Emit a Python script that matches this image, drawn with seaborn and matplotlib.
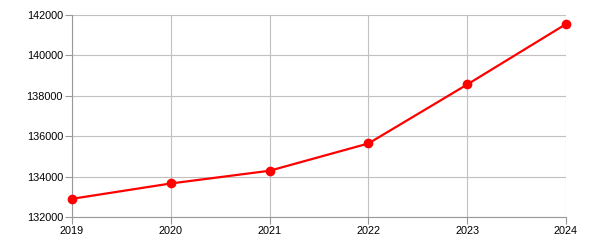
import matplotlib
matplotlib.use("Agg")
import matplotlib.pyplot as plt
import seaborn as sns
import pandas as pd

years = [2019, 2020, 2021, 2022, 2023, 2024]
values = [132900, 133660, 134290, 135640, 138560, 141550]
y_ticks = [132000, 134000, 136000, 138000, 140000, 142000]

sns.set_style("white")
plt.rcParams['font.family'] = ['Liberation Sans', 'DejaVu Sans']

df = pd.DataFrame({"year": years, "value": values})

fig = plt.figure(figsize=(6, 2.5), dpi=100)
ax = fig.add_axes([72/600, 1 - 217/250, (566-72)/600, (217-15)/250])

sns.lineplot(data=df, x="year", y="value", ax=ax, color="#ff0000",
             linewidth=1.6, marker="o", markersize=7, markeredgewidth=0,
             zorder=3)

ax.set_xlim(2019, 2024)
ax.set_ylim(132000, 142000)
ax.set_xticks(years)
ax.set_xticklabels([str(y) for y in years])
ax.set_yticks(y_ticks)
ax.set_yticklabels([str(v) for v in y_ticks])
ax.set_xlabel("")
ax.set_ylabel("")

ax.grid(True, color="#c0c0c0", linewidth=0.8)
for s in ["top", "right"]:
    ax.spines[s].set_visible(False)
for s in ["left", "bottom"]:
    ax.spines[s].set_color("#999999")
    ax.spines[s].set_linewidth(0.8)
ax.tick_params(axis="both", direction="out", length=5, width=0.8,
               color="#999999", labelsize=7.8, labelcolor="black", pad=1.5)
ax.tick_params(axis="x", bottom=True)
ax.tick_params(axis="y", left=True)
ax.set_axisbelow(True)
for line in ax.lines:
    line.set_clip_on(False)

fig.savefig("out.png", dpi=100)
